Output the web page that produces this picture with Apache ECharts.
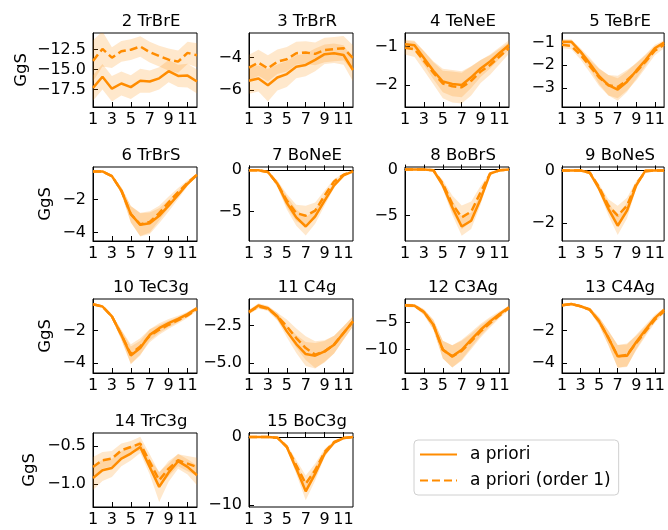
<!DOCTYPE html>
<html>
<head>
<meta charset="utf-8">
<script src="https://cdn.jsdelivr.net/npm/echarts@6/dist/echarts.min.js"></script>
<style>html,body{margin:0;padding:0;background:#fff}#c{width:668px;height:530px}</style>
</head>
<body>
<div id="c"></div>
<script>
// ---------------- data ----------------
const months = [1,2,3,4,5,6,7,8,9,10,11,12];
const xTicks = [1,3,5,7,9,11];
const titles = ['2 TrBrE','3 TrBrR','4 TeNeE','5 TeBrE','6 TrBrS','7 BoNeE','8 BoBrS','9 BoNeS','10 TeC3g','11 C4g','12 C3Ag','13 C4Ag','14 TrC3g','15 BoC3g'];
const seriesNames = ['a priori','a priori (order 1)'];

const p2_prior  = [-17.3,-15.9,-17.4,-16.75,-17.2,-16.4,-16.5,-16.1,-15.2,-15.8,-15.75,-16.5];
const p2_priorE = [1.6,1.6,1.6,1.5,1.5,1.5,1.4,1.4,1.4,1.4,1.5,1.5];
const p2_ord1   = [-13.9,-12.4,-13.5,-12.7,-12.5,-12.1,-12.8,-13.3,-13.75,-14.0,-12.9,-13.2];
const p2_ord1E  = [2.6,2.2,1.3,1.3,1.3,1.3,1.3,1.3,1.4,1.4,1.4,1.5];

const p3_prior  = [-5.42,-5.28,-5.69,-5.22,-5.01,-4.56,-4.45,-4.14,-3.79,-3.73,-3.84,-4.76];
const p3_priorE = [0.8,0.8,1.0,0.8,0.8,0.7,0.7,0.7,0.6,0.6,0.6,0.7];
const p3_ord1   = [-4.62,-4.31,-4.66,-4.25,-4.10,-3.73,-3.69,-3.77,-3.53,-3.48,-3.42,-4.04];
const p3_ord1E  = [0.8,0.8,0.8,0.75,0.75,0.7,0.7,0.7,0.75,0.75,0.75,0.8];

const p4_prior  = [-0.94,-0.97,-1.30,-1.63,-1.91,-1.97,-2.00,-1.80,-1.57,-1.39,-1.17,-0.96];
const p4_priorE = [0.12,0.12,0.18,0.22,0.28,0.32,0.32,0.28,0.22,0.18,0.15,0.12];
const p4_ord1   = [-1.03,-1.07,-1.37,-1.68,-1.96,-2.03,-2.06,-1.89,-1.65,-1.48,-1.26,-1.04];
const p4_ord1E  = [0.18,0.2,0.25,0.3,0.38,0.42,0.42,0.38,0.3,0.25,0.2,0.15];

const p5_prior  = [-0.96,-0.96,-1.40,-1.92,-2.48,-2.88,-3.07,-2.73,-2.24,-1.77,-1.25,-1.00];
const p5_priorE = [0.1,0.1,0.15,0.25,0.35,0.45,0.5,0.45,0.35,0.25,0.15,0.1];
const p5_ord1   = [-1.10,-1.15,-1.55,-2.04,-2.54,-2.88,-2.96,-2.66,-2.29,-1.84,-1.36,-1.10];
const p5_ord1E  = [0.15,0.15,0.2,0.28,0.38,0.45,0.5,0.45,0.38,0.28,0.2,0.15];

const p6_prior  = [-0.29,-0.29,-0.57,-1.45,-2.88,-3.53,-3.43,-2.98,-2.37,-1.71,-1.04,-0.49];
const p6_priorE = [0.03,0.03,0.05,0.2,0.5,0.7,0.65,0.45,0.35,0.25,0.15,0.05];
const p6_ord1   = [-0.29,-0.29,-0.57,-1.45,-2.88,-3.50,-3.35,-2.82,-2.16,-1.55,-0.98,-0.49];
const p6_ord1E  = [0.03,0.03,0.05,0.2,0.5,0.7,0.65,0.45,0.35,0.25,0.15,0.05];

const p7_prior  = [0,0,-0.2,-1.63,-3.94,-5.69,-6.79,-5.57,-3.66,-1.83,-0.61,-0.12];
const p7_priorE = [0,0,0.05,0.4,0.8,1.0,1.1,0.9,0.6,0.3,0.1,0.05];
const p7_ord1   = [0,0,-0.2,-1.63,-3.66,-5.16,-5.49,-4.88,-3.05,-1.34,-0.53,-0.12];
const p7_ord1E  = [0,0,0.05,0.4,0.8,1.0,1.2,1.0,0.6,0.3,0.1,0.05];

const p8_prior  = [0,0,0,-0.07,-1.72,-4.09,-6.17,-5.55,-3.18,-0.44,-0.07,0];
const p8_priorE = [0,0,0,0.05,0.4,0.8,1.0,0.9,0.6,0.1,0,0];
const p8_ord1   = [0,0,0,-0.07,-1.53,-3.72,-5.18,-4.56,-2.45,-0.44,-0.07,0];
const p8_ord1E  = [0,0,0,0.05,0.4,0.9,1.3,1.1,0.7,0.1,0,0];

const p9_prior  = [0,0,0,-0.09,-0.70,-1.46,-2.10,-1.53,-0.57,0,0,0];
const p9_priorE = [0,0,0,0.02,0.12,0.25,0.35,0.3,0.12,0,0,0];
const p9_ord1   = [0,0,0,-0.09,-0.64,-1.34,-1.72,-1.34,-0.51,-0.04,0,0];
const p9_ord1E  = [0,0,0,0.02,0.12,0.25,0.38,0.3,0.12,0.02,0,0];

const p10_prior  = [-0.39,-0.53,-1.14,-2.27,-3.53,-3.08,-2.27,-1.86,-1.55,-1.29,-1.00,-0.63];
const p10_priorE = [0.05,0.05,0.12,0.3,0.55,0.45,0.35,0.3,0.25,0.2,0.15,0.1];
const p10_ord1   = [-0.39,-0.53,-1.14,-2.27,-3.45,-2.98,-2.33,-1.96,-1.65,-1.37,-1.08,-0.69];
const p10_ord1E  = [0.05,0.05,0.12,0.3,0.6,0.5,0.4,0.3,0.25,0.2,0.15,0.1];

const p11_prior  = [-1.58,-1.14,-1.32,-1.88,-2.88,-3.73,-4.40,-4.51,-4.22,-3.77,-2.99,-2.21];
const p11_priorE = [0.15,0.15,0.15,0.25,0.4,0.6,0.8,0.85,0.7,0.6,0.45,0.35];
const p11_ord1   = [-1.58,-1.21,-1.36,-1.88,-2.54,-3.33,-4.00,-4.44,-4.22,-3.77,-2.99,-2.21];
const p11_ord1E  = [0.15,0.15,0.15,0.25,0.45,0.65,0.8,0.9,0.75,0.6,0.45,0.35];

const p12_prior  = [-1.99,-2.05,-3.19,-5.48,-10.0,-11.2,-10.0,-8.19,-6.39,-4.88,-3.55,-2.35];
const p12_priorE = [0.3,0.3,0.5,0.9,1.6,2.0,1.8,1.4,1.1,0.8,0.5,0.3];
const p12_ord1   = [-1.99,-2.05,-3.19,-5.48,-10.0,-11.2,-10.2,-8.5,-6.69,-5.18,-3.80,-2.47];
const p12_ord1E  = [0.3,0.3,0.5,0.9,1.6,2.0,1.8,1.4,1.1,0.8,0.5,0.3];

const p13_prior  = [-0.43,-0.35,-0.49,-0.70,-1.42,-2.45,-3.59,-3.55,-2.70,-1.94,-1.22,-0.70];
const p13_priorE = [0.08,0.08,0.08,0.12,0.25,0.45,0.7,0.7,0.45,0.3,0.2,0.12];
const p13_ord1   = [-0.43,-0.35,-0.49,-0.70,-1.42,-2.45,-3.59,-3.50,-2.76,-2.04,-1.32,-0.80];
const p13_ord1E  = [0.08,0.08,0.08,0.12,0.25,0.45,0.7,0.7,0.45,0.3,0.2,0.12];

const p14_prior  = [-0.917,-0.816,-0.785,-0.662,-0.596,-0.509,-0.772,-1.035,-0.846,-0.697,-0.772,-0.882];
const p14_priorE = [0.16,0.14,0.12,0.1,0.09,0.08,0.1,0.2,0.12,0.1,0.1,0.13];
const p14_ord1   = [-0.772,-0.684,-0.662,-0.553,-0.509,-0.465,-0.706,-0.947,-0.794,-0.684,-0.728,-0.772];
const p14_ord1E  = [0.13,0.11,0.1,0.09,0.08,0.09,0.1,0.1,0.1,0.08,0.1,0.12];

const p15_prior  = [0,0,0,-0.1,-1.46,-4.63,-7.95,-5.37,-2.44,-0.83,-0.15,0];
const p15_priorE = [0,0,0,0.05,0.3,0.8,1.3,1.0,0.5,0.2,0.05,0];
const p15_ord1   = [0,0,0,-0.1,-1.40,-4.15,-6.83,-4.88,-2.20,-0.73,-0.15,0];
const p15_ord1E  = [0,0,0,0.05,0.3,0.8,1.2,1.0,0.5,0.2,0.05,0];

// y ranges and tick labels per panel
const yMins = [-19.7,-7.03,-2.57,-3.84,-4.51,-8.54,-7.74,-2.68,-4.61,-5.67,-14.2,-4.62,-1.30,-10.25];
const yMaxs = [-10.4,-2.49,-0.65,-0.58,-0.02,0.4,0.28,0.13,-0.07,-0.71,-0.84,-0.04,-0.325,0.59];
const yTicks = [[-17.5,-15,-12.5],[-6,-4],[-2,-1],[-3,-2,-1],[-4,-2],[-5,0],[-5,0],[-2,0],[-4,-2],[-5,-2.5],[-10,-5],[-4,-2],[-1,-0.5],[-10,0]];
const yDecimals = [1,0,0,0,0,0,0,0,0,1,0,0,1,0];

// ---------------- build ----------------
const panels = [
  [p2_prior,p2_priorE,p2_ord1,p2_ord1E],[p3_prior,p3_priorE,p3_ord1,p3_ord1E],
  [p4_prior,p4_priorE,p4_ord1,p4_ord1E],[p5_prior,p5_priorE,p5_ord1,p5_ord1E],
  [p6_prior,p6_priorE,p6_ord1,p6_ord1E],[p7_prior,p7_priorE,p7_ord1,p7_ord1E],
  [p8_prior,p8_priorE,p8_ord1,p8_ord1E],[p9_prior,p9_priorE,p9_ord1,p9_ord1E],
  [p10_prior,p10_priorE,p10_ord1,p10_ord1E],[p11_prior,p11_priorE,p11_ord1,p11_ord1E],
  [p12_prior,p12_priorE,p12_ord1,p12_ord1E],[p13_prior,p13_priorE,p13_ord1,p13_ord1E],
  [p14_prior,p14_priorE,p14_ord1,p14_ord1E],[p15_prior,p15_priorE,p15_ord1,p15_ord1E]
];

const FONT = 'DejaVu Sans';
const ORANGE = '#ff8c00';
const BAND = 'rgba(255,140,0,0.2)';
const colLeft = [93, 249, 405, 562];
const rowTop = [33, 167, 299, 433];
const GW = 104, GH = 74;
const nameGaps = [63, 39, 39, 55];

const grids = [], xAxes = [], yAxes = [], titleArr = [], series = [];

function fmt(dec) {
  return function (v) {
    if (Math.abs(v) < 1e-9) return '0';
    return v.toFixed(dec).replace('-', '\u2212');
  };
}

function band(gi, vals, errs, name) {
  return {
    type: 'custom', name: name, xAxisIndex: gi, yAxisIndex: gi, silent: true, clip: true, z: 1,
    data: [[months[0], vals[0]]],
    renderItem: function (params, api) {
      const up = [], lo = [];
      for (let k = 0; k < months.length; k++) {
        up.push(api.coord([months[k], vals[k] + errs[k]]));
        lo.push(api.coord([months[k], vals[k] - errs[k]]));
      }
      return { type: 'polygon', shape: { points: up.concat(lo.reverse()) }, style: { fill: BAND } };
    }
  };
}

panels.forEach(function (p, i) {
  const r = Math.floor(i / 4), c = i % 4;
  const left = colLeft[c], top = rowTop[r];
  grids.push({ left: left, top: top, width: GW, height: GH, show: true, borderColor: '#000', borderWidth: 1, backgroundColor: 'transparent', containLabel: false });
  titleArr.push({ text: titles[i], left: left + GW / 2 + 1, top: top - 25, textAlign: 'center',
    textStyle: { fontFamily: FONT, fontSize: 16.5, fontWeight: 'normal', color: '#000' } });
  xAxes.push({
    type: 'value', gridIndex: i, min: 1, max: 12,
    axisLine: { show: true, lineStyle: { color: '#000', width: 1 } },
    axisTick: { show: true, inside: true, length: 5, customValues: xTicks, lineStyle: { color: '#000', width: 1 } },
    axisLabel: { show: true, customValues: xTicks, margin: 5, fontFamily: FONT, fontSize: 16, color: '#000' },
    splitLine: { show: false }
  });
  yAxes.push({
    type: 'value', gridIndex: i, min: yMins[i], max: yMaxs[i],
    name: c === 0 ? 'GgS' : '', nameLocation: 'middle', nameGap: nameGaps[r],
    nameTextStyle: { fontFamily: FONT, fontSize: 16.5, color: '#000' },
    axisLine: { show: true, lineStyle: { color: '#000', width: 1 } },
    axisTick: { show: true, inside: true, length: 5, customValues: yTicks[i], lineStyle: { color: '#000', width: 1 } },
    axisLabel: { show: true, customValues: yTicks[i], margin: 7, fontFamily: FONT, fontSize: 16, color: '#000', formatter: fmt(yDecimals[i]) },
    splitLine: { show: false }
  });
  series.push(band(i, p[0], p[1], 'band_prior_' + i));
  series.push(band(i, p[2], p[3], 'band_ord1_' + i));
  series.push({
    type: 'line', name: seriesNames[0], xAxisIndex: i, yAxisIndex: i, symbol: 'none', z: 3,
    data: months.map(function (m, k) { return [m, p[0][k]]; }),
    lineStyle: { color: ORANGE, width: 2.5, type: 'solid' }, itemStyle: { color: ORANGE }, animation: false
  });
  series.push({
    type: 'line', name: seriesNames[1], xAxisIndex: i, yAxisIndex: i, symbol: 'none', z: 3,
    data: months.map(function (m, k) { return [m, p[2][k]]; }),
    lineStyle: { color: ORANGE, width: 2.5, type: [8, 4] }, itemStyle: { color: ORANGE }, animation: false
  });
});

const chart = echarts.init(document.getElementById('c'), null, { renderer: 'canvas' });
chart.setOption({
  animation: false,
  backgroundColor: '#fff',
  title: titleArr,
  grid: grids,
  xAxis: xAxes,
  yAxis: yAxes,
  legend: {
    data: seriesNames, orient: 'vertical', left: 414, top: 440,
    backgroundColor: '#fff', borderColor: '#d0d0d0', borderWidth: 1, borderRadius: 4,
    padding: [6, 8, 6, 5], itemWidth: 37, itemHeight: 17, itemGap: 9,
    itemStyle: { color: 'transparent', borderColor: 'transparent', borderWidth: 0 },
    textStyle: { fontFamily: FONT, fontSize: 17, color: '#000', padding: [0, 0, 0, 8] },
    selectedMode: false
  },
  series: series
});
</script>
</body>
</html>
